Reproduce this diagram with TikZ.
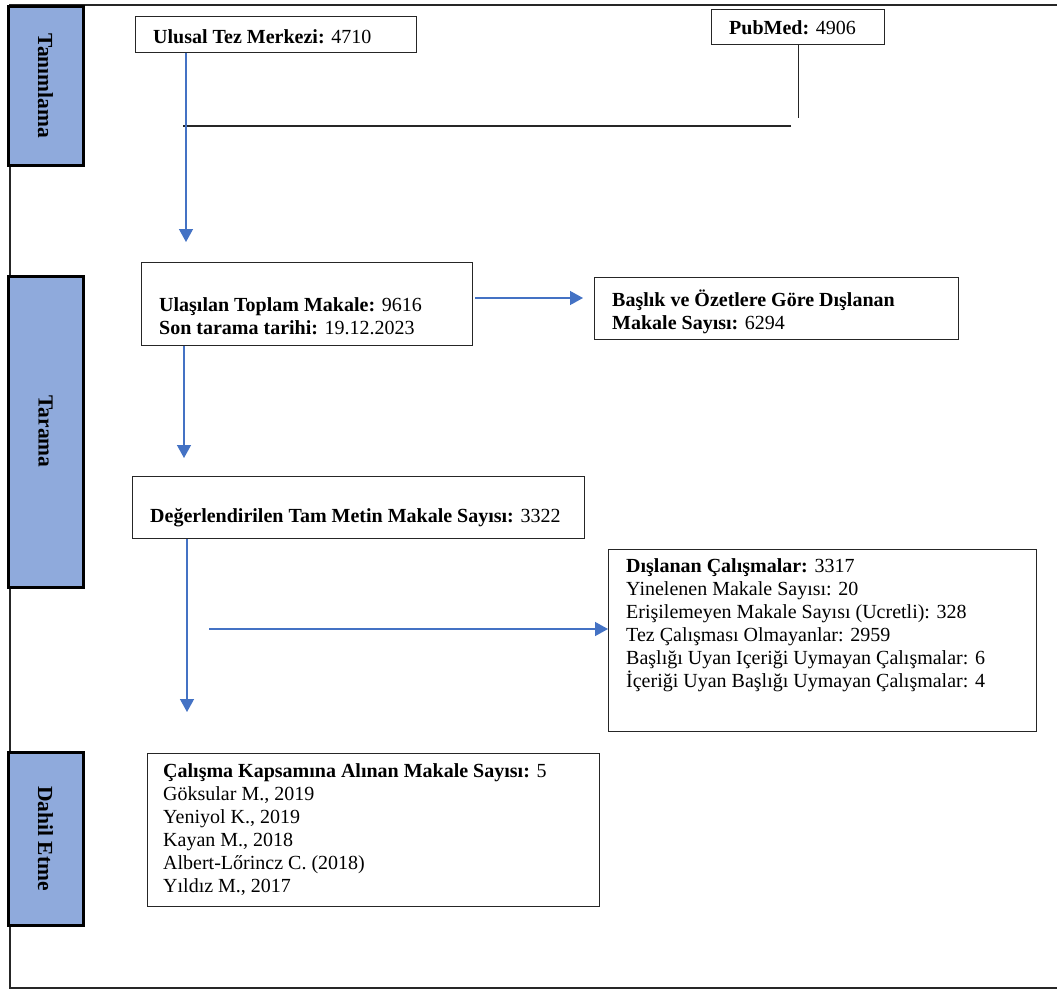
\documentclass[tikz,border=0pt]{standalone}
\usepackage{fontspec}
\setmainfont{Liberation Serif}
\usetikzlibrary{arrows.meta}
\definecolor{sideblue}{HTML}{8FAADC}
\definecolor{arrowblue}{HTML}{4472C4}
\begin{document}
\begin{tikzpicture}[x=1pt,y=-1pt,
  box/.style={draw=black!85, line width=1.3pt, fill=white, inner sep=0pt},
  side/.style={draw=black, line width=3pt, fill=sideblue, rotate=-90, inner sep=0pt,
    font=\fontsize{21.5}{23}\selectfont\bfseries},
  arr/.style={draw=arrowblue, line width=1.4pt, -{Triangle[length=13pt,width=14pt]}},
  plain/.style={draw=black!85, line width=1.3pt},
  txt/.style={font=\fontsize{20}{23}\selectfont, align=left, inner sep=0pt, anchor=west}]
\useasboundingbox (0,0) rectangle (1057,990);
% outer frame
\draw[plain] (1057,5) -- (10,5) -- (10,988) -- (1057,988);
% side labels
\node[side, minimum width=158pt, minimum height=75pt] (s1) at (45.5,86) {Tanımlama};
\node[side, minimum width=311pt, minimum height=75pt] (s2) at (45.5,431.5) {Tarama};
\node[side, minimum width=173pt, minimum height=75pt] (s3) at (45.5,838.5) {Dahil Etme};
% boxes
\node[box, anchor=north west, minimum width=281pt, minimum height=36pt] (ulusal) at (135,16) {};
\node[box, anchor=north west, minimum width=173pt, minimum height=35pt] (pubmed) at (711,9) {};
\node[box, anchor=north west, minimum width=331pt, minimum height=83pt] (ulasilan) at (141,262) {};
\node[box, anchor=north west, minimum width=364pt, minimum height=62pt] (baslik) at (594,277) {};
\node[box, anchor=north west, minimum width=452pt, minimum height=62pt] (deger) at (132,476) {};
\node[box, anchor=north west, minimum width=428pt, minimum height=182pt] (dislanan) at (608,549) {};
\node[box, anchor=north west, minimum width=452pt, minimum height=153pt] (calisma) at (147,753) {};
% texts
\node[txt] (tulusal) at (153,37) {\textbf{Ulusal Tez Merkezi:} 4710};
\node[txt] (tpubmed) at (729,28) {\textbf{PubMed:} 4906};
\node[txt] (tulasilan) at (159,316) {\textbf{Ulaşılan Toplam Makale:} 9616\\\textbf{Son tarama tarihi:} 19.12.2023};
\node[txt] (tbaslik) at (612,311.5) {\textbf{Başlık ve Özetlere Göre Dışlanan}\\\textbf{Makale Sayısı:} 6294};
\node[txt] (tdeger) at (150,518) {\textbf{Değerlendirilen Tam Metin Makale Sayısı:} 3322};
\node[txt] (tdislanan) at (626,625.5) {\textbf{Dışlanan Çalışmalar:} 3317\\
Yinelenen Makale Sayısı: 20\\
Erişilemeyen Makale Sayısı (Ucretli): 328\\
Tez Çalışması Olmayanlar: 2959\\
Başlığı Uyan Içeriği Uymayan Çalışmalar: 6\\
İçeriği Uyan Başlığı Uymayan Çalışmalar: 4};
\node[txt] (tcalisma) at (163,830) {\textbf{Çalışma Kapsamına Alınan Makale Sayısı:} 5\\
Göksular M., 2019\\
Yeniyol K., 2019\\
Kayan M., 2018\\
Albert-Lőrincz C. (2018)\\
Yıldız M., 2017};
% black merge lines
\coordinate (pmy) at (0,118);
\coordinate (hl1) at (791,126);
\coordinate (hl2) at (183,126);
\draw[plain] (pubmed.south) -- (pubmed.south |- pmy);
\draw[plain] (hl1) -- (hl2);
% blue arrows
\coordinate (a1e) at (186,242);
\draw[arr] (a1e |- ulusal.south) -- (a1e);
\coordinate (a2s) at (475,298);
\coordinate (a2e) at (583,298);
\draw[arr] (a2s) -- (a2e);
\coordinate (a3e) at (184,458);
\draw[arr] (a3e |- ulasilan.south) -- (a3e);
\coordinate (a4e) at (187,712);
\draw[arr] (a4e |- deger.south) -- (a4e);
\coordinate (a5s) at (209,629);
\draw[arr] (a5s) -- (a5s -| dislanan.west);
\end{tikzpicture}
\end{document}
